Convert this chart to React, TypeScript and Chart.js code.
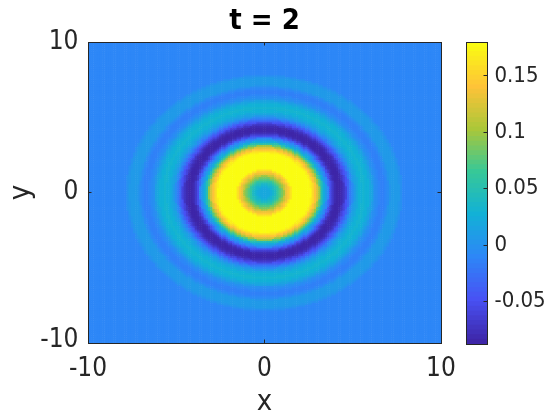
import React, { useEffect, useRef } from "react";
import { Chart, registerables } from "chart.js";

Chart.register(...registerables);

const titleText = "t = 2";
const xLabel = "x";
const yLabel = "y";
const axisTicks = [-10, 0, 10];
const colorbarTicks = [-0.05, 0, 0.05, 0.1, 0.15];
const colorMin = -0.0875;
const colorMax = 0.18;
const levelCount = 64;
const parulaStops = [
  [62, 38, 168],
  [72, 82, 244],
  [45, 135, 247],
  [18, 177, 214],
  [55, 200, 151],
  [171, 199, 57],
  [254, 195, 56],
  [250, 252, 18],
];
// Radial profile: one value per 0.1 of radius from the centre.
const ringStep = 0.1;
const ringValues = [
  0.017, 0.017, 0.018, 0.02, 0.025, 0.031, 0.04, 0.049, 0.06, 0.072,
  0.085, 0.1, 0.115, 0.13, 0.145, 0.16, 0.176, 0.177, 0.178, 0.179,
  0.18, 0.18, 0.18, 0.18, 0.179, 0.178, 0.176, 0.168, 0.155, 0.14,
  0.122, 0.1, 0.075, 0.05, 0.025, 0.005, -0.012, -0.031, -0.05, -0.068,
  -0.08, -0.086, -0.088, -0.087, -0.083, -0.074, -0.062, -0.048, -0.034, -0.02,
  -0.007, 0.005, 0.014, 0.021, 0.026, 0.029, 0.03, 0.03, 0.029, 0.026,
  0.021, 0.014, 0.007, 0.0, -0.006, -0.01, -0.013, -0.014, -0.013, -0.01,
  -0.004, 0.002, 0.005, 0.006, 0.007, 0.007, 0.006, 0.003, -0.003, -0.009,
  -0.012,
];
const gridStep = 0.125;
const gridHalfCount = 80;

const textColor = "#262626";
const fontFamily = "'DejaVu Sans Condensed', 'DejaVu Sans'";

function levelColor(level: number) {
  const t = (level / (levelCount - 1)) * (parulaStops.length - 1);
  const i = Math.min(Math.floor(t), parulaStops.length - 2);
  const f = t - i;
  const a = parulaStops[i];
  const b = parulaStops[i + 1];
  const c = [0, 1, 2].map((k) => Math.round(a[k] + (b[k] - a[k]) * f));
  return `rgb(${c[0]},${c[1]},${c[2]})`;
}
const levelColors = Array.from({ length: levelCount }, (_, i) => levelColor(i));

function valueColor(v: number) {
  const t = (v - colorMin) / (colorMax - colorMin);
  const lv = Math.max(0, Math.min(levelCount - 1, Math.floor(t * levelCount)));
  return levelColors[lv];
}

function buildCells() {
  const cells: { x: number; y: number; v: number }[] = [];
  const last = ringValues[ringValues.length - 1];
  for (let i = -gridHalfCount; i <= gridHalfCount; i++) {
    for (let j = -gridHalfCount; j <= gridHalfCount; j++) {
      const x = i * gridStep;
      const y = j * gridStep;
      const idx = Math.round(Math.hypot(x, y) / ringStep);
      cells.push({ x, y, v: idx < ringValues.length ? ringValues[idx] : last });
    }
  }
  return cells;
}

const setTicks = (values: number[]) => (scale: any) => {
  scale.ticks = values.map((value) => ({ value }));
};

function frameAxis(position: string, min: number, max: number, values: number[], size: number) {
  return {
    type: "linear",
    position,
    min,
    max,
    afterBuildTicks: setTicks(values),
    afterFit: (s: any) => {
      if (position === "top" || position === "bottom") s.height = size;
      else s.width = size;
    },
    ticks: { display: false },
    border: { display: true, color: textColor, width: 1, z: 2 },
    grid: { drawOnChartArea: false, drawTicks: true, tickLength: -3.5, tickColor: textColor, z: 2 },
  };
}

export default function App() {
  const mapRef = useRef<HTMLCanvasElement>(null);
  const barRef = useRef<HTMLCanvasElement>(null);

  useEffect(() => {
    const labelFont = { family: fontFamily, size: 26 };
    const mapChart = new Chart(mapRef.current!, {
      type: "scatter",
      data: {
        datasets: [
          {
            data: buildCells(),
            clip: 0,
            pointStyle: "rect",
            pointRadius: 1.9,
            pointBorderWidth: 0,
            pointHoverRadius: 1.9,
            backgroundColor: (c: any) => valueColor(c.raw ? c.raw.v : 0),
          },
        ],
      },
      options: {
        animation: false,
        responsive: false,
        events: [],
        layout: { padding: { left: 0, right: 119, top: 0, bottom: 0 } },
        plugins: {
          legend: { display: false },
          tooltip: { enabled: false },
          title: {
            display: true,
            text: titleText,
            fullSize: false,
            color: "#000",
            font: { family: fontFamily, size: 29, weight: "bold", lineHeight: 1.2 },
            padding: { top: 4, bottom: 3.2 },
          },
        },
        scales: {
          x: {
            ...frameAxis("bottom", -10, 10, axisTicks, 77),
            ticks: { display: true, color: textColor, font: labelFont, padding: 14, maxRotation: 0, autoSkip: false, callback: (v: any) => String(v) },
            title: { display: true, text: xLabel, color: textColor, font: { family: fontFamily, size: 29 }, padding: { top: 0, bottom: 0 } },
          },
          y: {
            ...frameAxis("left", -10, 10, axisTicks, 88),
            ticks: {
              display: true,
              color: textColor,
              font: (c: any) => (c.tick && c.tick.value === axisTicks[0] ? { ...labelFont, lineHeight: "6px" } : labelFont),
              padding: 13,
              autoSkip: false,
              callback: (v: any) => (v === axisTicks[0] ? [String(v), ""] : String(v)),
            },
            title: { display: true, text: yLabel, color: textColor, font: { family: fontFamily, size: 29 }, padding: { top: 4, bottom: 0 } },
          },
          xTop: frameAxis("top", -10, 10, axisTicks, 0),
          yRight: frameAxis("right", -10, 10, axisTicks, 0),
        },
      } as any,
    } as any);

    const barChart = new Chart(barRef.current!, {
      type: "bar",
      data: {
        labels: ["colorbar"],
        datasets: levelColors.map((color, i) => ({
          data: [[colorMin, colorMin + ((i + 1) / levelCount) * (colorMax - colorMin)]],
          backgroundColor: color,
          borderWidth: 0,
          barPercentage: 1,
          categoryPercentage: 1,
        })),
      },
      options: {
        animation: false,
        responsive: false,
        events: [],
        layout: { padding: { left: 466, right: 0, top: 42, bottom: 0 } },
        plugins: { legend: { display: false }, tooltip: { enabled: false }, title: { display: false } },
        scales: {
          x: {
            type: "category",
            stacked: true,
            position: "bottom",
            afterFit: (s: any) => { s.height = 76; },
            ticks: { display: false },
            border: { display: true, color: textColor, width: 1, z: 2 },
            grid: { display: true, drawOnChartArea: false, drawTicks: false },
          },
          y: {
            ...frameAxis("right", colorMin, colorMax, colorbarTicks, 73),
            stacked: false,
            ticks: { display: true, color: textColor, font: { family: fontFamily, size: 22 }, padding: 11, autoSkip: false, callback: (v: any) => String(v) },
          },
          yLeft: { ...frameAxis("left", colorMin, colorMax, [], 0), grid: { display: false } },
          xTop: {
            type: "category",
            position: "top",
            afterFit: (s: any) => { s.height = 0; },
            ticks: { display: false },
            border: { display: true, color: textColor, width: 1, z: 2 },
            grid: { display: true, drawOnChartArea: false, drawTicks: false },
          },
        },
      } as any,
    } as any);

    return () => {
      mapChart.destroy();
      barChart.destroy();
    };
  }, []);

  const canvasStyle: React.CSSProperties = { position: "absolute", left: 0, top: 0, display: "block" };
  return (
    <div style={{ position: "absolute", left: 0, top: 0, width: 560, height: 420, background: "#fff" }}>
      <canvas ref={mapRef} width={560} height={420} style={canvasStyle} />
      <canvas ref={barRef} width={560} height={420} style={{ ...canvasStyle, pointerEvents: "none" }} />
    </div>
  );
}
